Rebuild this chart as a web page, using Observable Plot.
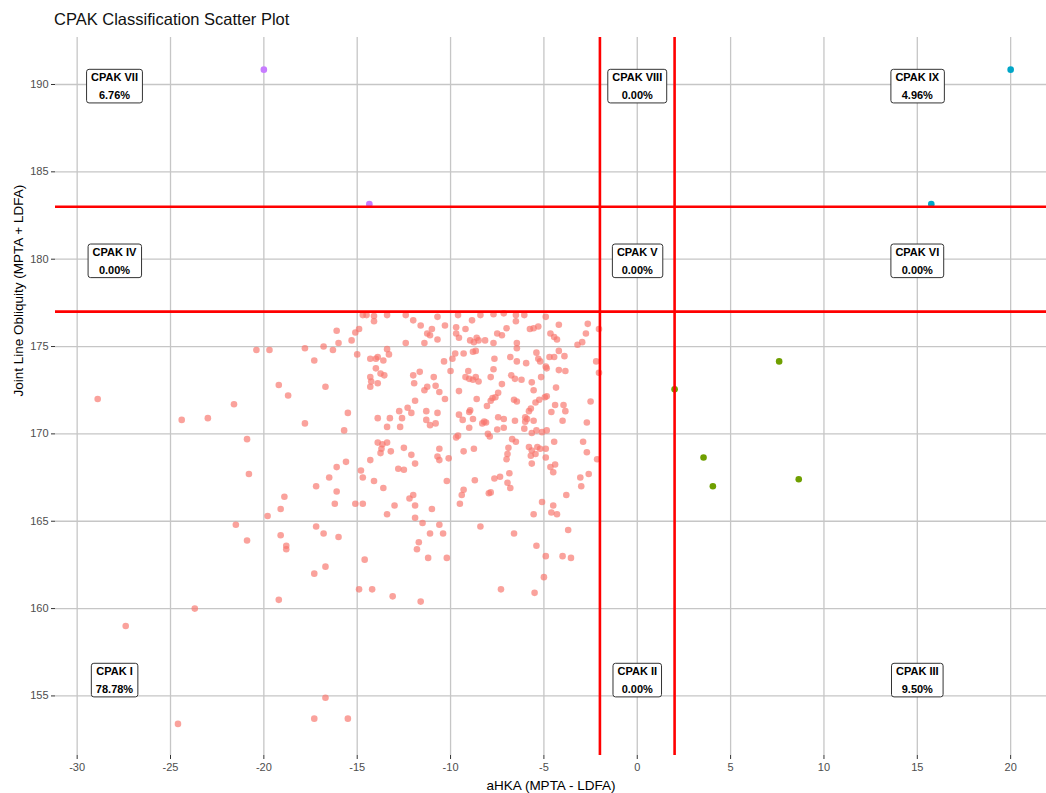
<!DOCTYPE html>
<html>
<head>
<meta charset="utf-8">
<script src="https://cdn.jsdelivr.net/npm/d3@7"></script>
<script src="https://cdn.jsdelivr.net/npm/@observablehq/plot@0.6"></script>
<style>
  html, body { margin: 0; padding: 0; background: #ffffff; }
  #wrap { width: 1046px; font-family: "Liberation Sans", Arial, sans-serif; }
  #title { height: 37px; box-sizing: border-box; padding-left: 54px; padding-top: 9px;
           font-size: 16.5px; line-height: 20px; color: #111; }
</style>
</head>
<body>
<div id="wrap">
  <div id="title">CPAK Classification Scatter Plot</div>
  <div id="chart"></div>
</div>
<script>
// ---------- data ----------
const xTicks = [-30, -25, -20, -15, -10, -5, 0, 5, 10, 15, 20];
const yTicks = [155, 160, 165, 170, 175, 180, 185, 190];
const ahkaCuts = [-2, 2];
const jloCuts = [177, 183];

const labelNames = ["CPAK I", "CPAK II", "CPAK III", "CPAK IV", "CPAK V", "CPAK VI", "CPAK VII", "CPAK VIII", "CPAK IX"];
const labelPcts  = ["78.78%", "0.00%", "9.50%", "0.00%", "0.00%", "0.00%", "6.76%", "0.00%", "4.96%"];
const labelX     = [-28, 0, 15, -28, 0, 15, -28, 0, 15];
const labelY     = [156, 156, 156, 180, 180, 180, 190, 190, 190];

// CPAK I points [aHKA, JLO]
const cpakI = [
  [-20.4,174.8],[-19.7,174.8],[-17.8,174.9],[-16.8,175.0],[-17.3,174.2],[-19.2,172.8],[-18.7,172.2],[-16.7,172.7],
  [-21.6,171.7],[-23.0,170.9],[-24.4,170.8],[-17.8,170.6],[-20.9,169.7],[-28.9,172.0],
  [-20.8,167.7],[-17.2,167.0],[-16.5,167.5],[-16.1,166.7],[-18.9,166.4],[-19.1,165.7],[-19.8,165.3],[-16.2,166.0],
  [-15.1,166.0],[-14.7,166.0],[-21.5,164.8],[-20.9,163.9],[-19.1,164.2],[-18.8,163.6],[-18.8,163.4],[-17.2,164.7],
  [-16.8,164.3],[-16.0,164.1],[-14.6,162.8],[-16.7,162.4],[-17.3,162.0],[-14.9,161.1],[-14.2,161.1],[-19.2,160.5],
  [-23.7,160.0],
  [-27.4,159.0],[-16.7,154.9],[-17.3,153.7],[-15.5,153.7],[-24.6,153.4],
  [-13.6,166.9],[-13.0,165.9],[-13.4,165.4],[-12.2,166.3],[-12.0,166.5],[-11.9,165.9],[-11.9,165.2],[-11.5,164.9],
  [-11.0,165.7],[-10.6,164.8],[-11.1,164.3],[-10.4,164.3],[-11.7,163.8],[-11.8,163.4],[-11.2,162.9],[-10.2,162.9],
  [-13.1,160.7],[-11.6,160.4],[-9.4,166.5],[-9.3,166.8],[-9.5,166.0],[-7.95,166.6],[-7.85,166.65],[-6.8,166.9],
  [-8.4,164.7],[-6.6,164.3],[-5.4,163.6],[-4.9,163.0],[-4.0,163.0],[-3.55,162.9],[-3.7,164.5],[-5.0,161.8],
  [-7.3,161.1],[-5.5,160.9],[-5.55,165.4],[-5.1,166.1],[-4.5,165.9],[-4.6,165.5],[-4.3,165.4],[-3.8,166.5],[-3.0,167.0],
  [-15.5,171.2],[-15.7,170.2],[-16.1,168.1],[-15.6,168.4],[-14.8,167.9],[-14.7,167.5],[-14.1,167.3],[-13.9,170.9],
  [-13.25,170.9],[-13.4,170.4],[-12.7,170.4],[-12.6,170.9],[-12.75,171.3],[-12.3,171.5],[-12.1,171.2],[-11.9,171.9],
  [-11.3,171.3],[-11.3,170.8],[-10.7,171.2],[-10.8,170.6],[-11.1,170.5],[-10.3,172.0],[-9.55,171.1],[-9.35,170.8],
  [-9.6,169.9],[-9.3,169.0],[-13.9,169.5],[-13.65,169.4],[-13.4,169.5],[-13.7,169.15],[-13.75,168.9],[-13.2,169.0],
  [-12.5,169.2],[-12.1,168.8],[-14.3,168.5],[-12.8,168.0],[-12.5,167.95],[-11.9,168.3],[-10.6,169.15],[-10.7,168.7],
  [-10.6,168.5],[-10.1,168.6],[-10.2,167.3],[-9.7,169.8],
  [-14.7,176.8],[-14.5,176.8],[-14.1,176.75],[-14.1,176.45],[-13.4,176.8],[-12.4,176.8],[-12.0,176.5],[-11.6,176.2],
  [-10.7,176.7],[-10.3,176.2],[-9.6,176.8],[-9.7,176.1],[-9.7,175.75],[-9.55,175.5],[-9.2,176.0],[-11.25,175.75],
  [-11.1,175.65],[-11.0,176.0],[-11.4,175.2],[-10.7,175.4],[-12.4,175.2],[-16.1,175.9],[-15.1,175.8],[-14.9,176.0],
  [-15.3,175.35],[-16.0,175.2],[-16.3,174.8],[-15.0,174.55],[-14.3,174.3],[-14.0,174.3],[-13.9,174.4],[-13.6,174.2],
  [-13.4,174.85],[-13.3,174.55],[-14.0,173.75],[-13.75,173.45],[-13.55,173.35],[-14.3,173.25],[-14.25,173.0],[-14.3,172.7],
  [-13.9,172.9],[-12.0,173.35],[-11.65,173.55],[-11.95,172.9],[-11.25,172.7],[-11.4,172.5],[-10.9,173.25],[-10.8,172.75],
  [-10.6,172.4],[-10.35,174.15],[-10.0,173.6],[-9.9,174.3],[-9.75,174.6],[-9.3,174.6],[-9.55,172.45],[-9.2,173.25],
  [-8.85,176.5],[-8.4,176.8],[-7.7,176.85],[-7.15,176.9],[-6.5,176.8],[-6.05,176.8],[-6.5,176.45],[-7.0,176.05],
  [-7.5,175.75],[-7.25,175.65],[-8.15,175.35],[-8.95,175.35],[-8.75,175.25],[-8.5,175.35],[-8.6,175.5],[-7.7,175.2],
  [-6.45,175.2],[-6.45,174.9],[-5.75,176.0],[-5.55,176.05],[-5.3,176.15],[-4.9,176.7],[-4.2,176.25],[-4.65,175.75],
  [-4.45,175.55],[-4.3,175.4],[-2.65,176.3],[-2.75,175.75],[-2.95,175.25],[-3.2,175.1],[-2.05,176.0],[-8.8,174.7],
  [-8.65,174.75],[-7.65,174.3],[-6.8,174.4],[-6.45,174.15],[-5.95,174.05],[-5.4,174.65],[-5.3,174.3],[-5.2,174.15],
  [-4.7,174.4],[-4.45,174.4],[-4.2,174.75],[-3.9,174.45],[-4.9,173.85],[-4.85,173.75],[-4.2,173.65],[-3.85,173.6],
  [-5.15,173.25],[-2.2,174.15],[-2.05,173.5],[-9.05,173.6],[-9.0,173.15],[-8.8,173.1],[-8.5,173.0],[-8.65,173.25],
  [-7.85,173.25],[-7.7,173.7],[-7.25,172.85],[-6.75,173.35],[-6.55,173.15],[-6.2,173.1],[-5.65,172.95],[-5.55,172.5],
  [-4.35,172.65],[-7.45,172.35],
  [-8.6,172.0],[-7.85,171.9],[-7.75,172.05],[-7.6,172.1],[-8.05,171.6],[-8.95,171.35],[-9.0,171.25],[-8.8,170.85],
  [-8.2,170.7],[-8.1,170.65],[-8.3,170.6],[-7.45,170.95],[-7.15,170.85],[-9.0,170.35],[-8.0,170.0],[-7.9,169.85],
  [-7.5,170.25],[-7.15,170.35],[-6.6,171.95],[-6.45,171.85],[-6.55,170.75],[-6.7,169.7],[-6.5,169.55],[-6.05,170.3],
  [-6.0,170.7],[-5.9,170.85],[-6.0,170.95],[-5.8,171.3],[-5.7,171.45],[-5.55,170.75],[-5.45,171.8],[-5.25,171.95],
  [-4.95,172.1],[-4.85,172.15],[-5.65,170.05],[-5.4,170.2],[-5.1,170.1],[-4.85,170.2],[-4.6,171.25],[-4.4,171.65],
  [-3.95,171.65],[-3.85,171.3],[-4.0,170.75],[-2.7,170.65],[-2.5,171.85],[-6.9,169.2],[-6.95,168.85],[-7.0,168.55],
  [-8.75,169.15],[-5.8,169.25],[-5.65,169.05],[-5.7,168.75],[-5.35,169.25],[-5.2,169.15],[-4.9,169.15],[-5.45,168.85],
  [-4.9,168.65],[-4.45,169.55],[-5.65,168.3],[-4.65,168.1],[-4.4,168.25],[-4.5,167.8],[-2.9,169.55],[-2.7,168.95],
  [-2.15,168.55],[-2.6,167.7],[-3.05,167.5],[-8.7,167.35],[-7.65,167.45],[-7.35,167.55],[-6.95,167.2],[-6.85,167.75]
];
const cpakIII = [[2.0,172.55],[7.6,174.15],[3.55,168.65],[4.05,167.0],[8.65,167.4]];
const cpakVII = [[-20.0,190.85],[-14.35,183.15]];
const cpakIX  = [[20.0,190.85],[15.75,183.15]];

// ---------- chart ----------
const labels = labelNames.map((n, i) => ({name: n, pct: labelPcts[i], x: labelX[i], y: labelY[i]}));
const font = "'Liberation Sans', Arial, sans-serif";
const gridStyle = {stroke: "#C6C6C6", strokeOpacity: 1, strokeWidth: 1.3};

const chart = Plot.plot({
  width: 1046,
  height: 756,
  marginTop: 0,
  marginLeft: 55,
  marginRight: 0,
  marginBottom: 38,
  style: {fontFamily: font, background: "#ffffff", overflow: "visible"},
  x: {domain: [-31.16, 21.92]},
  y: {domain: [151.59, 192.69]},
  marks: [
    Plot.gridX(xTicks, gridStyle),
    Plot.gridY(yTicks, gridStyle),
    Plot.axisX(xTicks, {tickSize: 4, tickPadding: 4, fontSize: 11, fill: "#4D4D4D", stroke: "#333333",
                        tickFormat: d => String(d), label: null}),
    Plot.axisY(yTicks, {tickSize: 4, tickPadding: 3, fontSize: 11, fill: "#4D4D4D", stroke: "#333333",
                        tickFormat: d => String(d), label: null}),
    Plot.dot(cpakI, {x: d => d[0], y: d => d[1], r: 3.3, fill: "#F8766D", fillOpacity: 0.68}),
    Plot.dot(cpakIII, {x: d => d[0], y: d => d[1], r: 3.3, fill: "#6F9F00"}),
    Plot.dot(cpakVII, {x: d => d[0], y: d => d[1], r: 3.3, fill: "#C77CFF"}),
    Plot.dot(cpakIX, {x: d => d[0], y: d => d[1], r: 3.3, fill: "#00A6C8"}),
    Plot.ruleX(ahkaCuts, {stroke: "#FF0000", strokeWidth: 2.6}),
    Plot.ruleY(jloCuts, {stroke: "#FF0000", strokeWidth: 2.6}),
    Plot.text(labels, {x: "x", y: "y", text: d => d.name + "\n" + d.pct, lineHeight: 1.6,
                       fontSize: 11, fontWeight: "bold", fill: "#000000"}),
    Plot.text(["aHKA (MPTA - LDFA)"], {text: d => d, frameAnchor: "bottom", dy: 34, fontSize: 13.5,
                       fill: "#000000"}),
    Plot.text(["Joint Line Obliquity (MPTA + LDFA)"], {text: d => d, frameAnchor: "left", dx: -37, rotate: -90,
                       fontSize: 13.5, fill: "#000000"})
  ]
});

document.getElementById("chart").append(chart);

// boxes behind quadrant labels (like ggplot geom_label)
const labelSet = new Set(labelNames);
Array.from(chart.querySelectorAll("text")).forEach(t => {
  const first = t.querySelector("tspan");
  if (!first || !labelSet.has(first.textContent.trim())) return;
  const b = t.getBBox();
  const r = document.createElementNS("http://www.w3.org/2000/svg", "rect");
  r.setAttribute("x", b.x - 4.5);
  r.setAttribute("y", b.y - 2);
  r.setAttribute("width", b.width + 9);
  r.setAttribute("height", b.height + 4);
  r.setAttribute("rx", 2.5);
  r.setAttribute("fill", "#ffffff");
  r.setAttribute("stroke", "#333333");
  r.setAttribute("stroke-width", 1);
  const tr = t.getAttribute("transform");
  if (tr) r.setAttribute("transform", tr);
  t.parentNode.insertBefore(r, t);
});
</script>
</body>
</html>
